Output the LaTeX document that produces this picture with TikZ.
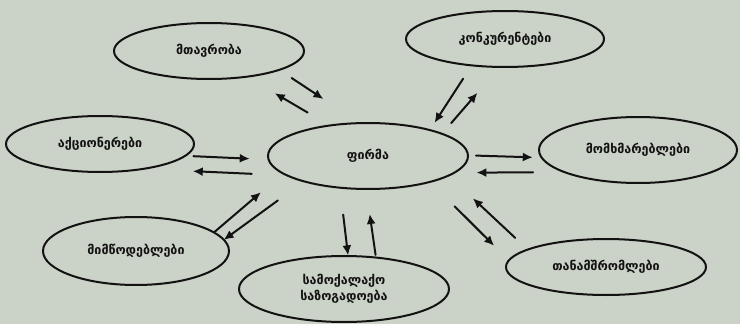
\documentclass[tikz,border=0pt]{standalone}
\usepackage{fontspec}
\setmainfont{DejaVu Sans}
\usetikzlibrary{arrows.meta,shapes.geometric,calc}

\definecolor{paper}{RGB}{203,210,199}
\definecolor{ink}{RGB}{18,18,18}

\begin{document}
\begin{tikzpicture}[x=1pt,y=-1pt,line cap=round,line join=round,
    stake/.style={ellipse,draw=ink,line width=2pt,inner sep=0pt,text=ink,align=center,font=\fontsize{12.5}{16}\selectfont\bfseries},
    flow/.style={ink,line width=2pt,-{Latex[length=10pt,width=9pt]}}]

    \fill[paper] (0,0) rectangle (740,324);
    \useasboundingbox (0,0) rectangle (740,324);

    \draw (368,156) node[stake, minimum width=200pt, minimum height=66pt] (firma) {ფირმა};
    \draw (209,51) node[stake, minimum width=190pt, minimum height=56pt] (mtavroba) {მთავრობა};
    \draw (505,39) node[stake, minimum width=198pt, minimum height=56pt] (konkur) {კონკურენტები};
    \draw (100,144) node[stake, minimum width=188pt, minimum height=56pt] (aktsion) {აქციონერები};
    \draw (638,150) node[stake, minimum width=198pt, minimum height=66pt] (momkh) {მომხმარებლები};
    \draw (136,251) node[stake, minimum width=186pt, minimum height=68pt] (mimts) {მიმწოდებლები};
    \draw (344,289) node[stake, minimum width=210pt, minimum height=66pt] (samoq) {სამოქალაქო\\საზოგადოება};
    \draw (606,267) node[stake, minimum width=200pt, minimum height=56pt] (tanam) {თანამშრომლები};

    % government
    \draw[flow] ($(mtavroba.center)!0.44!(firma.center)!23pt!90:(firma.center)$) -- ($(mtavroba.center)!0.64!(firma.center)!23pt!90:(firma.center)$);
    \draw[flow] ($(mtavroba.center)!0.61!(firma.center)!3pt!90:(firma.center)$) -- ($(mtavroba.center)!0.41!(firma.center)!1pt!90:(firma.center)$);
    % competitors
    \draw[flow] ($(konkur.center)!0.32!(firma.center)!3pt!90:(firma.center)$) -- ($(konkur.center)!0.60!(firma.center)!18pt!90:(firma.center)$);
    \draw[flow] ($(konkur.center)!0.53!(firma.center)!29pt!90:(firma.center)$) -- ($(konkur.center)!0.31!(firma.center)!23pt!90:(firma.center)$);
    % shareholders
    \draw[flow] ($(aktsion.center)!0.35!(firma.center)!8pt!-90:(firma.center)$) -- ($(aktsion.center)!0.56!(firma.center)!8pt!-90:(firma.center)$);
    \draw[flow] ($(aktsion.center)!0.57!(firma.center)!23pt!-90:(firma.center)$) -- ($(aktsion.center)!0.35!(firma.center)!23pt!-90:(firma.center)$);
    % consumers
    \draw[flow] ($(momkh.center)!0.60!(firma.center)!2pt!90:(firma.center)$) -- ($(momkh.center)!0.39!(firma.center)!5pt!90:(firma.center)$);
    \draw[flow] ($(momkh.center)!0.39!(firma.center)!20pt!90:(firma.center)$) -- ($(momkh.center)!0.60!(firma.center)!19pt!90:(firma.center)$);
    % suppliers
    \draw[flow] ($(mimts.center)!0.32!(firma.center)!12pt!-90:(firma.center)$) -- ($(mimts.center)!0.55!(firma.center)!7pt!90:(firma.center)$);
    \draw[flow] ($(mimts.center)!0.60!(firma.center)!7pt!-90:(firma.center)$) -- ($(mimts.center)!0.34!(firma.center)!23pt!-90:(firma.center)$);
    % civil society
    \draw[flow] ($(samoq.center)!0.54!(firma.center)!14pt!90:(firma.center)$) -- ($(samoq.center)!0.25!(firma.center)!2pt!90:(firma.center)$);
    \draw[flow] ($(samoq.center)!0.29!(firma.center)!25pt!-90:(firma.center)$) -- ($(samoq.center)!0.58!(firma.center)!12pt!-90:(firma.center)$);
    % employees
    \draw[flow] ($(tanam.center)!0.62!(firma.center)!9pt!90:(firma.center)$) -- ($(tanam.center)!0.42!(firma.center)!28pt!90:(firma.center)$);
    \draw[flow] ($(tanam.center)!0.36!(firma.center)!12pt!90:(firma.center)$) -- ($(tanam.center)!0.57!(firma.center)!6pt!-90:(firma.center)$);
\end{tikzpicture}
\end{document}
